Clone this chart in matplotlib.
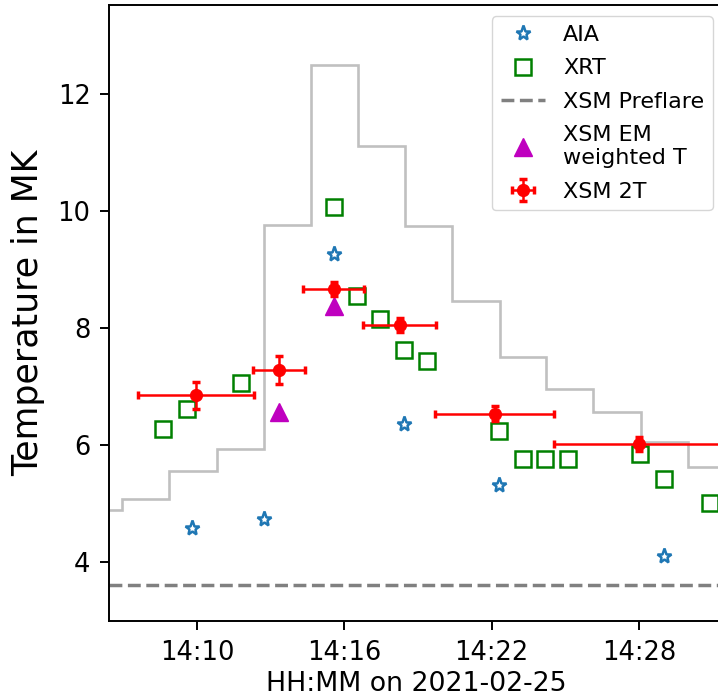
import matplotlib
matplotlib.use("Agg")
import matplotlib.pyplot as plt
import matplotlib.dates as mdates
import numpy as np
import pandas as pd

DAY = "2021-02-25 "

# AIA
aia_time = ["14:09:49", "14:12:43", "14:15:36", "14:18:26", "14:22:18", "14:29:01"]
aia_temp = [4.58, 4.74, 9.26, 6.36, 5.32, 4.11]

# XRT
xrt_time = ["14:08:37", "14:09:37", "14:11:47", "14:15:36", "14:16:31", "14:17:28",
            "14:18:26", "14:19:23", "14:22:19", "14:23:18", "14:24:10", "14:25:08",
            "14:28:02", "14:29:01", "14:30:53"]
xrt_temp = [6.27, 6.61, 7.06, 10.07, 8.54, 8.16, 7.62, 7.43, 6.24, 5.77, 5.76, 5.77,
            5.85, 5.43, 5.01]

# XSM preflare temperature
preflare_temp = 3.61

# XSM EM weighted T
em_time = ["14:13:21", "14:15:36"]
em_temp = [6.57, 8.38]

# XSM 2T fits (time-bin start/end)
t2_start = ["14:07:35", "14:12:17", "14:14:20", "14:16:47", "14:19:43", "14:24:32"]
t2_end = ["14:12:20", "14:14:23", "14:16:49", "14:19:45", "14:24:32", "14:31:30"]
t2_temp = [6.85, 7.28, 8.67, 8.05, 6.54, 6.02]
t2_err = [0.235, 0.235, 0.12, 0.12, 0.12, 0.12]

# XSM step profile (grey)
step_edges = ["14:05:00", "14:06:57", "14:08:53", "14:10:49", "14:12:43", "14:14:38",
              "14:16:34", "14:18:29", "14:20:24", "14:22:20", "14:24:14", "14:26:08",
              "14:28:04", "14:29:59", "14:33:00"]
step_vals = [4.89, 5.08, 5.56, 5.93, 9.75, 12.48, 11.11, 9.74, 8.46, 7.51, 6.95, 6.56,
             6.05, 5.62]


def to_num(lst):
    return mdates.date2num(pd.to_datetime([DAY + s for s in lst]).to_pydatetime())


W, H = 718.0, 700.0
fig = plt.figure(figsize=(W / 100, H / 100), dpi=100)
left_px, right_px, bottom_px, top_px = 109.3, 724.0, 621.0, 5.0
ax = fig.add_axes([left_px / W, (H - bottom_px) / H, (right_px - left_px) / W,
                   (bottom_px - top_px) / H])
ax.xaxis_date()

ax.stairs(step_vals, to_num(step_edges), color="#c0c0c0", lw=1.9, zorder=1,
          baseline=None)

ax.plot(to_num(aia_time), aia_temp, ls="none", marker="*", ms=11, mfc="none",
        mec="#1f77b4", mew=1.8, label="AIA", zorder=3)
ax.plot(to_num(xrt_time), xrt_temp, ls="none", marker="s", ms=12, mfc="none",
        mec="green", mew=1.8, label="XRT", zorder=3)
ax.axhline(preflare_temp, color="gray", ls="--", lw=2.5, label="XSM Preflare", zorder=2)
ax.plot(to_num(em_time), em_temp, ls="none", marker="^", ms=13, color="m",
        label="XSM EM\nweighted T", zorder=4)

s = to_num(t2_start)
e = to_num(t2_end)
cen = (s + e) / 2
half = (e - s) / 2
ax.errorbar(cen, t2_temp, xerr=half, yerr=t2_err, fmt="o", ms=8.5,
            color="red", ecolor="red", elinewidth=1.8, capsize=3, capthick=2.5,
            label="XSM 2T", zorder=5)

ax.set_xlim(to_num(["14:06:26"])[0], to_num(["14:31:28"])[0])
ax.set_ylim(3.0, 13.51)
ax.xaxis.set_major_locator(mdates.MinuteLocator(byminute=[4, 10, 16, 22, 28, 34]))
ax.xaxis.set_major_formatter(mdates.DateFormatter("%H:%M"))
ax.set_yticks([4, 6, 8, 10, 12])

ax.spines["right"].set_visible(False)
for sp in ["left", "bottom", "top"]:
    ax.spines[sp].set_linewidth(1.4)
ax.tick_params(labelsize=18.5, length=6.5, width=1.4, pad=7)

ax.set_xlabel("HH:MM on 2021-02-25", fontsize=19.3, labelpad=4)
ax.set_ylabel("Temperature in MK", fontsize=25, labelpad=9)

ax.legend(loc="upper right", fontsize=16, labelspacing=0.6)

fig.savefig("out.png", dpi=100)
